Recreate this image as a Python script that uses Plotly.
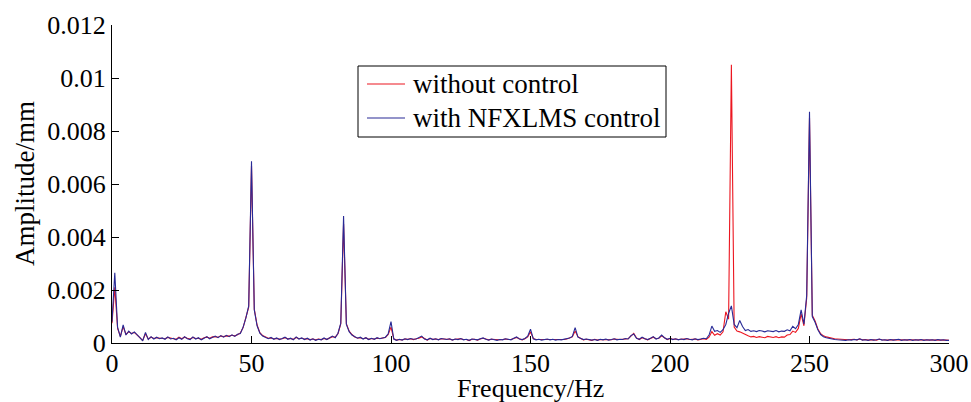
import numpy as np
import plotly.graph_objects as go

# Frequency bins (Hz), 1 Hz resolution
freq_hz = np.arange(0, 301)

# Amplitude spectra in units of 1e-4 mm
amp_without_control = [
    7.5, 21.0, 5.5, 2.5, 6.2, 3.3, 4.2, 3.6, 4.0, 3.0,
    2.2, 1.0, 3.5, 1.5, 2.2, 1.7, 2.0, 1.8, 1.7, 1.6,
    2.1, 1.7, 1.6, 1.4, 2.2, 1.6, 2.2, 1.8, 1.5, 2.1,
    1.7, 1.8, 1.4, 2.0, 2.2, 1.8, 2.3, 2.4, 2.2, 2.6,
    2.4, 2.7, 2.6, 2.9, 2.7, 3.1, 3.8, 5.8, 9.2, 13.5,
    67.0, 12.8, 6.8, 3.9, 2.8, 2.2, 1.8, 1.9, 1.6, 1.7,
    1.5, 1.6, 2.0, 1.6, 1.7, 1.4, 2.1, 1.6, 1.8, 1.5,
    1.6, 1.3, 1.5, 1.2, 1.5, 1.3, 1.7, 1.4, 1.9, 2.4,
    2.2, 3.5, 7.2, 45.0, 7.3, 4.5, 3.2, 2.3, 1.9, 2.0,
    1.6, 1.9, 1.4, 1.7, 1.5, 1.8, 1.7, 1.8, 2.1, 3.2,
    6.0, 1.6, 1.1, 1.3, 1.2, 1.5, 1.4, 1.6, 1.3, 1.6,
    1.8, 2.3, 1.6, 1.1, 1.7, 1.4, 1.5, 1.3, 1.6, 1.4,
    1.4, 1.5, 1.2, 1.4, 1.4, 1.6, 1.3, 1.3, 0.9, 1.4,
    1.4, 1.1, 1.5, 1.8, 1.5, 1.2, 1.4, 1.3, 1.1, 1.2,
    1.3, 1.5, 1.3, 1.3, 1.7, 2.1, 1.6, 1.2, 1.6, 2.3,
    4.2, 1.7, 1.3, 1.3, 1.2, 1.2, 1.4, 1.3, 1.3, 1.2,
    1.2, 1.3, 1.3, 1.5, 1.8, 2.3, 4.5, 2.4, 1.7, 1.2,
    1.4, 1.3, 1.0, 1.4, 1.1, 1.3, 1.3, 1.4, 1.2, 1.2,
    1.5, 1.3, 1.3, 1.4, 1.6, 1.6, 2.6, 3.6, 1.9, 1.3,
    2.0, 1.7, 1.2, 1.7, 2.2, 1.6, 1.8, 2.7, 2.1, 1.3,
    1.7, 1.4, 1.5, 1.3, 1.4, 1.4, 1.6, 1.3, 1.3, 1.5,
    1.2, 1.4, 1.6, 1.4, 2.2, 4.3, 2.9, 3.5, 3.0, 4.2,
    11.8, 9.0, 105.0, 6.0, 4.5, 4.2, 3.6, 3.3, 2.7, 2.3,
    2.5, 2.1, 2.4, 2.2, 2.0, 2.5, 2.2, 2.1, 2.4, 2.0,
    2.3, 2.2, 3.0, 3.2, 4.5, 4.0, 5.5, 11.0, 6.5, 17.0,
    85.0, 10.5, 8.3, 5.3, 3.5, 2.7, 2.3, 2.0, 1.8, 1.6,
    1.5, 1.4, 1.3, 1.3, 1.2, 1.3, 1.4, 1.2, 1.5, 1.2,
    1.3, 1.1, 1.2, 1.2, 1.1, 1.4, 1.2, 1.1, 1.1, 1.2,
    1.2, 1.1, 1.3, 1.1, 1.1, 1.2, 1.2, 1.1, 1.1, 1.2,
    1.2, 1.1, 1.1, 1.2, 1.1, 1.1, 1.2, 1.2, 1.1, 1.1,
    1.0,
]

amp_with_nfxlms = [
    8.0, 26.5, 6.0, 2.2, 6.8, 3.0, 4.5, 3.4, 4.2, 3.2,
    2.0, 0.8, 4.0, 1.3, 2.4, 1.5, 2.2, 1.6, 1.9, 1.4,
    2.3, 1.5, 1.8, 1.2, 2.0, 1.4, 2.4, 1.6, 1.3, 2.3,
    1.5, 2.0, 1.2, 1.8, 2.4, 1.6, 2.1, 2.6, 2.0, 2.8,
    2.2, 2.9, 2.4, 3.1, 2.5, 3.3, 3.6, 6.0, 9.5, 14.0,
    68.6, 12.5, 6.5, 3.7, 2.6, 2.0, 1.6, 2.1, 1.4, 1.9,
    1.3, 1.7, 2.2, 1.4, 1.8, 1.2, 2.3, 1.5, 1.9, 1.3,
    1.8, 1.1, 1.6, 1.0, 1.4, 1.2, 1.9, 1.3, 2.0, 2.6,
    2.0, 3.7, 7.5, 47.9, 7.0, 4.3, 3.0, 2.4, 1.8, 2.2,
    1.5, 2.0, 1.3, 1.8, 1.4, 2.0, 1.6, 1.9, 2.2, 3.5,
    8.1, 1.5, 1.0, 1.4, 1.1, 1.6, 1.3, 1.7, 1.4, 1.5,
    1.9, 2.6, 1.5, 1.2, 1.8, 1.3, 1.6, 1.2, 1.7, 1.5,
    1.3, 1.6, 1.1, 1.5, 1.3, 1.7, 1.2, 1.4, 1.0, 1.5,
    1.3, 1.2, 1.6, 1.9, 1.4, 1.1, 1.5, 1.2, 1.0, 1.3,
    1.2, 1.6, 1.4, 1.2, 1.8, 2.3, 1.5, 1.3, 1.7, 2.6,
    5.2, 1.6, 1.2, 1.4, 1.1, 1.3, 1.5, 1.2, 1.4, 1.1,
    1.3, 1.2, 1.4, 1.6, 1.9, 2.5, 5.8, 2.2, 1.6, 1.3,
    1.5, 1.2, 1.1, 1.3, 1.0, 1.4, 1.2, 1.5, 1.1, 1.3,
    1.6, 1.2, 1.4, 1.3, 1.7, 1.5, 2.8, 3.4, 1.8, 1.4,
    2.2, 1.6, 1.3, 1.8, 2.4, 1.5, 1.9, 3.0, 2.0, 1.4,
    1.8, 1.3, 1.6, 1.2, 1.5, 1.3, 1.7, 1.4, 1.2, 1.6,
    1.3, 1.5, 1.8, 1.6, 3.0, 6.4, 4.4, 4.7, 4.0, 5.0,
    7.0, 11.2, 14.0, 7.0, 5.8, 8.5, 6.2, 4.7, 5.1, 4.4,
    4.6, 4.3, 4.7, 4.5, 4.2, 4.6, 4.4, 4.3, 4.7, 4.2,
    4.5, 4.4, 5.0, 4.6, 6.3, 5.4, 7.0, 12.5, 7.1, 18.0,
    87.3, 10.0, 7.8, 5.0, 3.2, 2.4, 2.0, 1.7, 1.5, 1.3,
    1.2, 1.1, 1.2, 1.0, 1.2, 1.1, 1.3, 1.2, 1.6, 1.1,
    1.2, 1.0, 1.3, 1.1, 1.2, 1.5, 1.1, 1.2, 1.0, 1.3,
    1.1, 1.2, 1.4, 1.0, 1.2, 1.1, 1.3, 1.0, 1.2, 1.1,
    1.3, 1.0, 1.2, 1.1, 1.2, 1.0, 1.3, 1.1, 1.2, 1.0,
    1.0,
]

series_names = ["without control", "with NFXLMS control"]
series_colors = ["rgb(236,22,32)", "rgb(40,42,150)"]

x_ticks = [0, 50, 100, 150, 200, 250, 300]
y_ticks = [0, 0.002, 0.004, 0.006, 0.008, 0.01, 0.012]
y_tick_labels = ["0", "0.002", "0.004", "0.006", "0.008", "0.01", "0.012"]

SCALE = 1e-4  # list units -> mm
FONT = "Liberation Serif, Times New Roman, serif"

W, H = 971, 402
M_L, M_R, M_T, M_B = 112, 22, 25, 59
PLOT_W = W - M_L - M_R
PLOT_H = H - M_T - M_B


def px_x(px):
    """Page pixel column -> paper x."""
    return (px - M_L) / PLOT_W


def px_y(py):
    """Page pixel row -> paper y."""
    return (H - M_B - py) / PLOT_H


fig = go.Figure()
for name, color, amps in zip(series_names, series_colors,
                             [amp_without_control, amp_with_nfxlms]):
    fig.add_trace(go.Scatter(
        x=freq_hz, y=np.array(amps) * SCALE,
        mode="lines", name=name,
        line=dict(color=color, width=1.1),
        showlegend=False,
    ))

axis_common = dict(
    showline=True, linecolor="black", linewidth=1,
    ticks="inside", ticklen=7, tickcolor="black", tickwidth=1,
    showgrid=False, zeroline=False, mirror=False, automargin=False,
    tickfont=dict(family=FONT, size=26, color="black"),
)
fig.update_xaxes(range=[0, 300], tickvals=x_ticks, ticklabelstandoff=-3,
                 **axis_common)
fig.update_yaxes(range=[0, 0.012], tickvals=y_ticks, ticktext=y_tick_labels,
                 **axis_common)

# Axis titles
title_font = dict(family=FONT, size=26, color="black")
fig.add_annotation(text="Frequency/Hz", xref="paper", yref="paper",
                   x=0.5, y=px_y(388), xanchor="center", yanchor="middle",
                   showarrow=False, font=title_font)
fig.add_annotation(text="Amplitude/mm", xref="paper", yref="paper",
                   x=px_x(25), y=0.5, xanchor="center", yanchor="middle",
                   textangle=-90, showarrow=False,
                   font=dict(family=FONT, size=27, color="black"))

# Boxed legend in the upper middle of the axes
box_l, box_r, box_t, box_b = 358, 666, 66, 137
fig.add_shape(type="rect", xref="paper", yref="paper",
              x0=px_x(box_l), x1=px_x(box_r), y0=px_y(box_b), y1=px_y(box_t),
              line=dict(color="black", width=1), fillcolor="white", layer="above")
row_centers = [84, 118]
for tr, yc in zip(fig.data, row_centers):
    fig.add_shape(type="line", xref="paper", yref="paper",
                  x0=px_x(367), x1=px_x(405), y0=px_y(yc), y1=px_y(yc),
                  line=dict(color=tr.line.color, width=1.1), layer="above")
    fig.add_annotation(text=tr.name, xref="paper", yref="paper",
                       x=px_x(411), y=px_y(yc), xanchor="left", yanchor="middle",
                       showarrow=False,
                       font=dict(family=FONT, size=27, color="black"))

fig.update_layout(
    width=W, height=H,
    margin=dict(l=M_L, r=M_R, t=M_T, b=M_B, autoexpand=False),
    paper_bgcolor="white", plot_bgcolor="white",
    showlegend=False,
)

fig.write_html("out.html")
